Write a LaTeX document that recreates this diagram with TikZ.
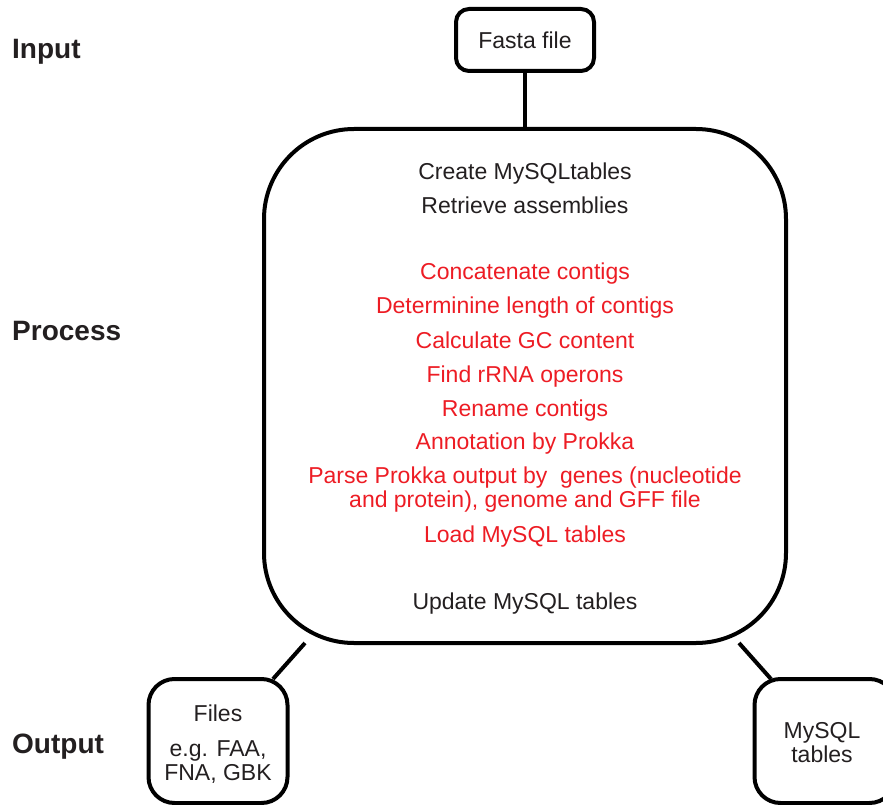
\documentclass[tikz,border=0pt]{standalone}
\usepackage{fontspec}
\setmainfont{Liberation Sans}
\definecolor{txtred}{RGB}{237,28,36}
\definecolor{txtblk}{RGB}{35,31,32}
\begin{document}
\begin{tikzpicture}[x=1pt,y=-1pt,
  box/.style={draw=black,line width=4pt,rounded corners=#1,inner sep=0pt},
  box/.default=12pt,
  lab/.style={font=\fontsize{28}{32}\selectfont\bfseries,anchor=base west,text=txtblk,inner sep=0pt},
  txt/.style={font=\fontsize{23}{24}\selectfont,text=txtblk,align=center,inner sep=0pt},
  ltxt/.style={txt,anchor=base},
  rtxt/.style={ltxt,text=txtred},
  conn/.style={line width=4pt}]
\useasboundingbox (0,0) rectangle (883,805);
\clip (0,0) rectangle (883,805);
% side labels
\node[lab] (lin) at (12,59) {Input};
\node[lab] (lproc) at (12,340) {Process};
\node[lab] (lout) at (12,753) {Output};
% boxes
\node[box=13pt,minimum width=138pt,minimum height=62pt,txt] (fasta) at (525,40) {Fasta file};
\node[box=90pt,minimum width=522pt,minimum height=514pt] (proc) at (525,386) {};
\node[box=26pt,minimum width=139pt,minimum height=124pt] (files) at (218,741) {};
\node[box=26pt,minimum width=141pt,minimum height=124pt] (mysql) at (825,741) {};
% process texts
\node[ltxt] (t1) at (525,180) {Create MySQLtables};
\node[ltxt] (t2) at (525,214) {Retrieve assemblies};
\node[rtxt] (t3) at (525,279) {Concatenate contigs};
\node[rtxt] (t4) at (525,313) {Determinine length of contigs};
\node[rtxt] (t5) at (525,348) {Calculate GC content};
\node[rtxt] (t6) at (525,382) {Find rRNA operons};
\node[rtxt] (t7) at (525,416) {Rename contigs};
\node[rtxt] (t8) at (525,449) {Annotation by Prokka};
\node[rtxt] (t9) at (525,507) {Parse Prokka output by\ \ genes (nucleotide\\and protein), genome and GFF file};
\node[rtxt] (t10) at (525,542) {Load MySQL tables};
\node[ltxt] (t11) at (525,609) {Update MySQL tables};
% output texts
\node[ltxt] (f1) at (218,721) {Files};
\node[ltxt] (f2) at (218,780) {e.g. FAA,\\FNA, GBK};
\node[ltxt] (m1) at (822,762) {MySQL\\tables};
% connectors
\coordinate (a1) at (305,643);
\coordinate (a2) at (273,679);
\coordinate (b1) at (739,643);
\coordinate (b2) at (771,679);
\draw[conn] (fasta.south) -- (proc.north);
\draw[conn] (a1) -- (a2);
\draw[conn] (b1) -- (b2);
\end{tikzpicture}
\end{document}
